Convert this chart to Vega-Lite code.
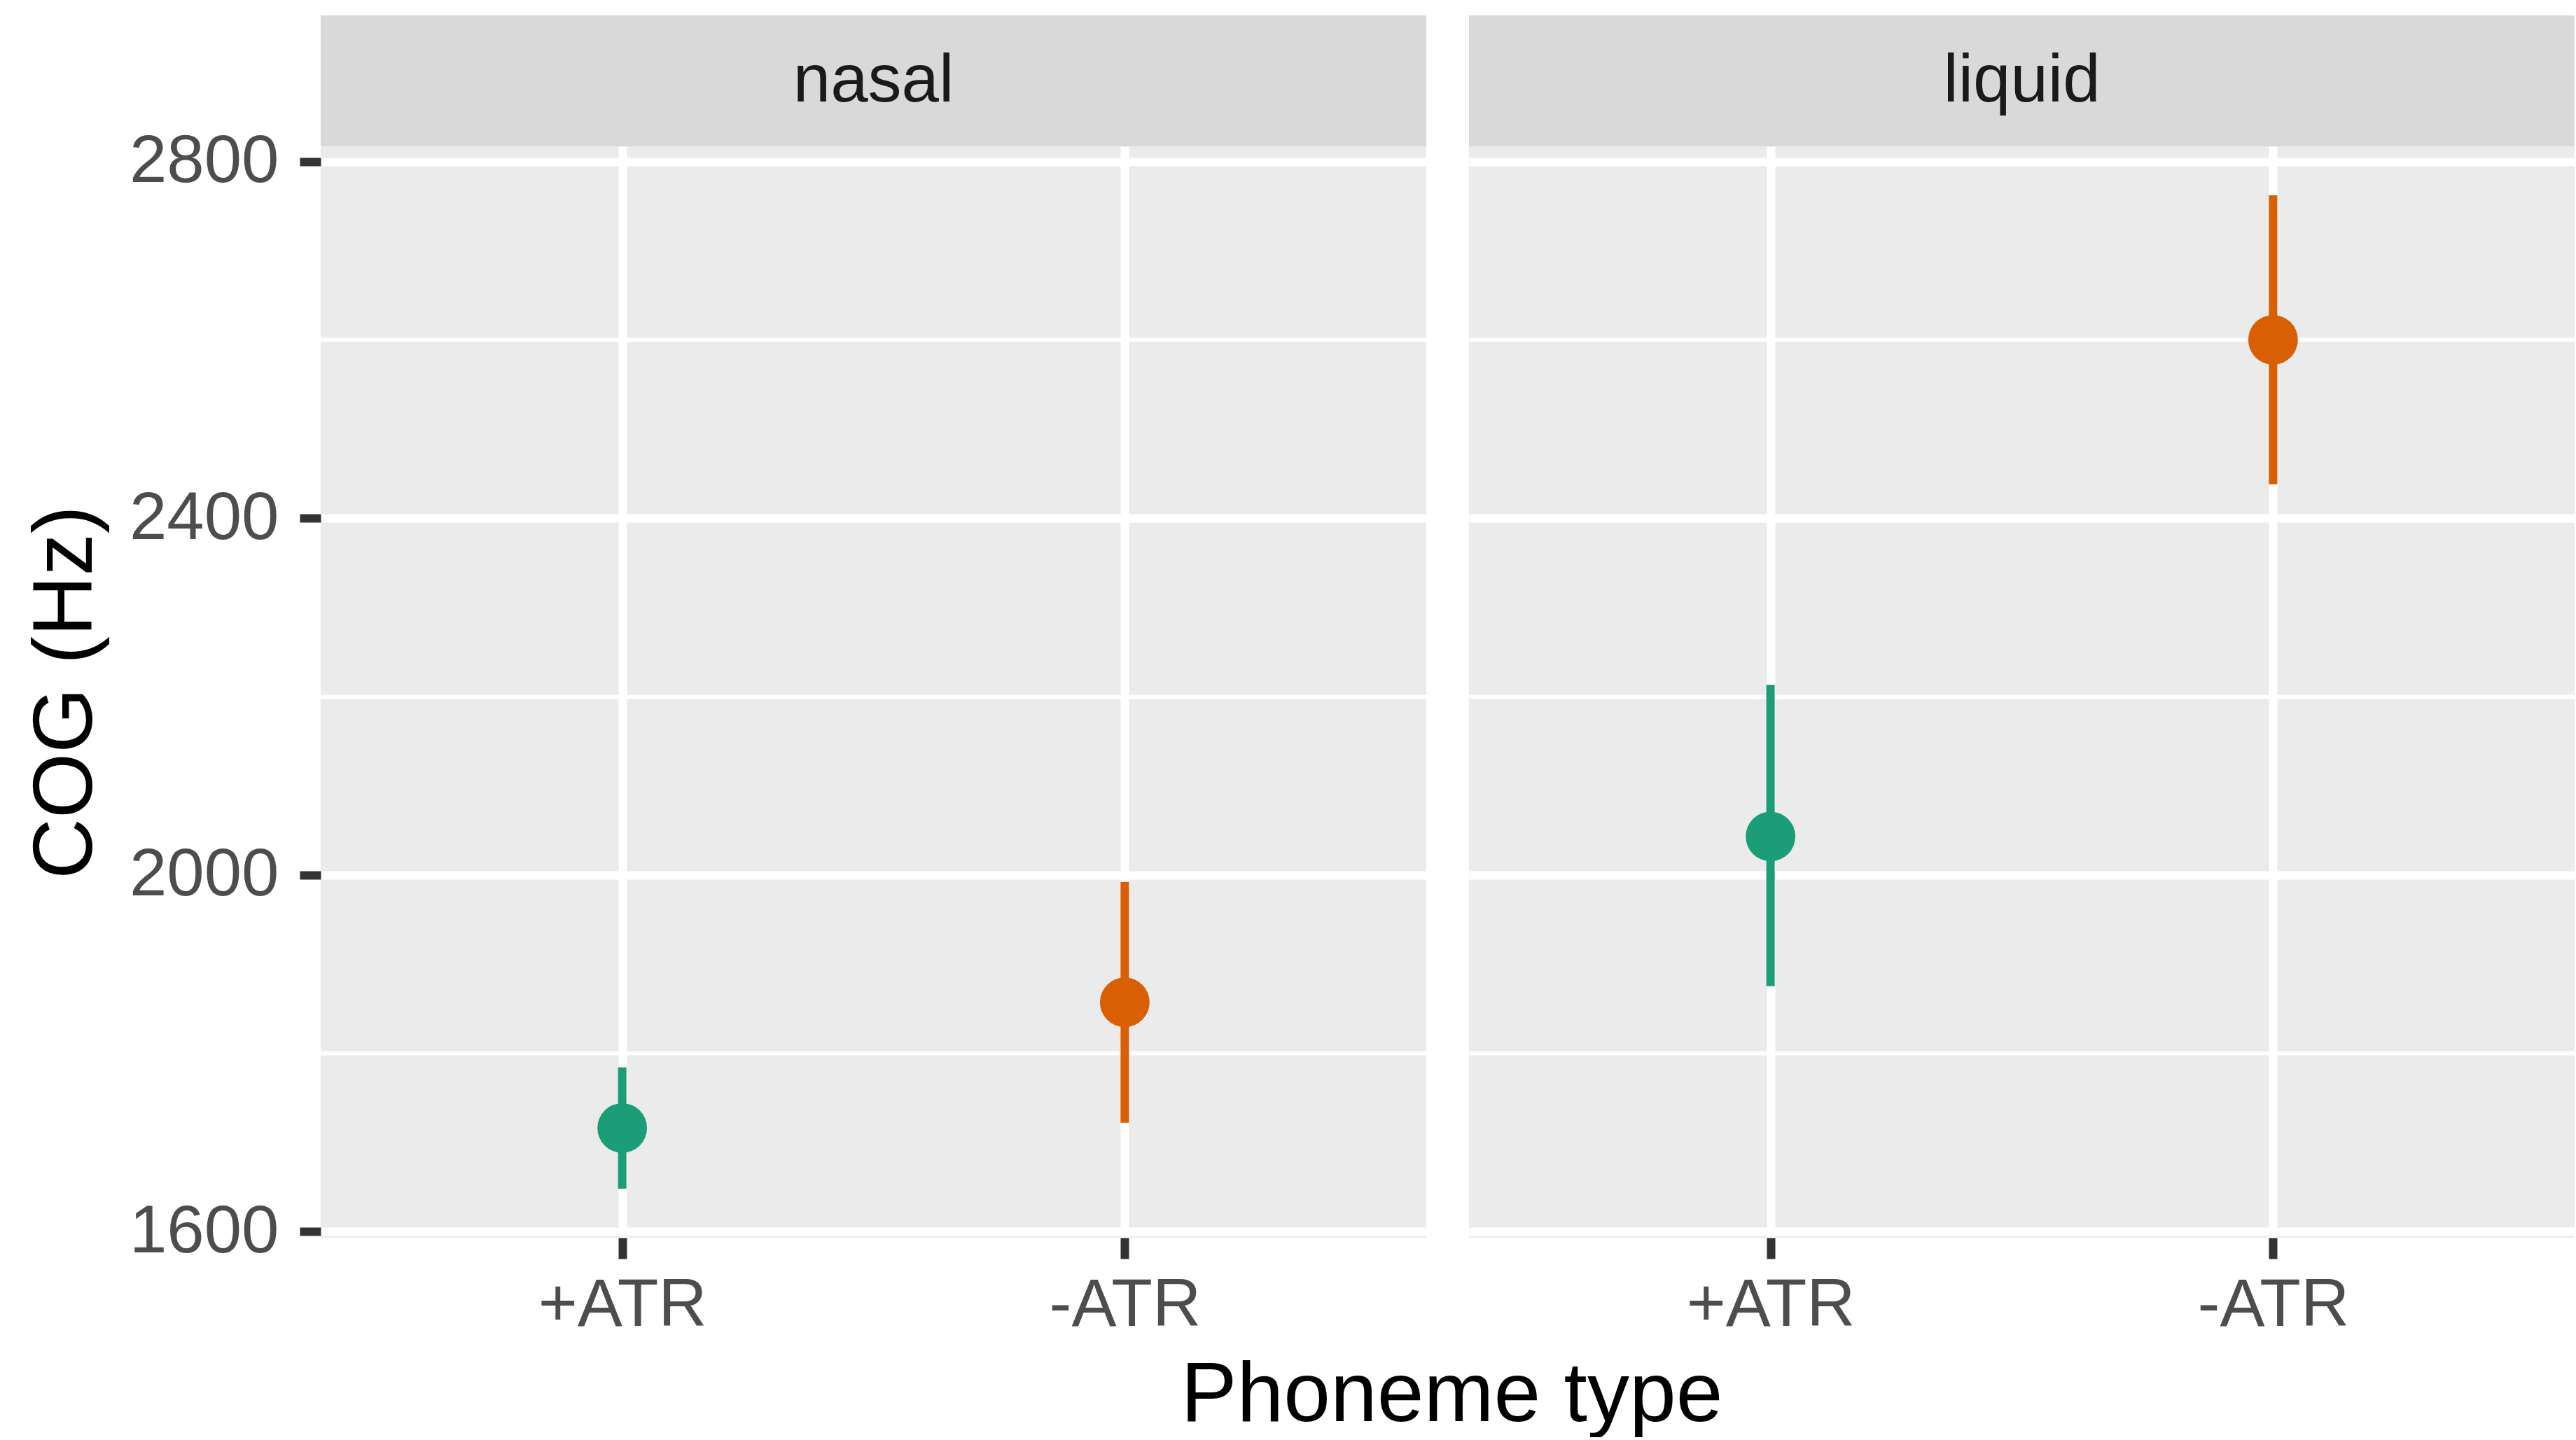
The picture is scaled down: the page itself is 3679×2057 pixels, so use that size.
{
  "$schema": "https://vega.github.io/schema/vega-lite/v6.json",
  "padding": {"left": 34, "top": 22, "right": 0, "bottom": 0},
  "bounds": "flush",
  "columns": 2,
  "spacing": {"row": 0, "column": 61},
  "datasets": {
    "strips": [{"panel": "nasal"}, {"panel": "liquid"}],
    "cog": [
      {"phon": "nasal", "type": "+ATR", "cog": 1716, "lower": 1648, "upper": 1784},
      {"phon": "nasal", "type": "-ATR", "cog": 1857, "lower": 1722, "upper": 1992},
      {"phon": "liquid", "type": "+ATR", "cog": 2043, "lower": 1875, "upper": 2213},
      {"phon": "liquid", "type": "-ATR", "cog": 2600, "lower": 2438, "upper": 2762}
    ]
  },
  "concat": [
    {
      "width": 1579, "height": 187,
      "view": {"fill": "#d9d9d9", "stroke": null},
      "data": {"name": "strips"},
      "transform": [{"filter": "datum.panel === 'nasal'"}],
      "mark": {"type": "text", "fontSize": 96, "color": "#1a1a1a", "font": "Liberation Sans", "baseline": "middle", "align": "center"},
      "encoding": {"text": {"field": "panel", "type": "nominal"}}
    },
    {
      "width": 1579, "height": 187,
      "view": {"fill": "#d9d9d9", "stroke": null},
      "data": {"name": "strips"},
      "transform": [{"filter": "datum.panel === 'liquid'"}],
      "mark": {"type": "text", "fontSize": 96, "color": "#1a1a1a", "font": "Liberation Sans", "baseline": "middle", "align": "center"},
      "encoding": {"text": {"field": "panel", "type": "nominal"}}
    },
    {
      "width": 1579, "height": 1559,
      "data": {"name": "cog"},
      "transform": [{"filter": "datum.phon === 'nasal'"}],
      "encoding": {
        "x": {"field": "type", "type": "nominal", "sort": ["+ATR", "-ATR"],
              "scale": {"type": "point", "padding": 0.6},
              "axis": {"title": "Phoneme type", "titleX": 1615, "grid": true, "labelAngle": 0}},
        "color": {"field": "type", "type": "nominal",
                  "scale": {"domain": ["+ATR", "-ATR"], "range": ["#1b9e77", "#d95f02"]},
                  "legend": null}
      },
      "layer": [
        {
          "mark": {"type": "rule", "strokeWidth": 12},
          "encoding": {
            "y": {"field": "lower", "type": "quantitative", "title": "COG (Hz)",
                  "scale": {"domain": [1593, 2817], "nice": false, "zero": false},
                  "axis": {"values": [1600, 1800, 2000, 2200, 2400, 2600, 2800], "format": "d",
                           "labelExpr": "datum.value % 400 === 0 ? datum.label : ''",
                           "gridWidth": {"condition": {"test": "datum.value % 400 === 0", "value": 12}, "value": 6},
                           "tickOpacity": {"condition": {"test": "datum.value % 400 === 0", "value": 1}, "value": 0},
                           "labelFlush": false, "titlePadding": 103}},
            "y2": {"field": "upper"}
          }
        },
        {
          "mark": {"type": "circle", "size": 5027, "opacity": 1},
          "encoding": {
            "y": {"field": "cog", "type": "quantitative", "title": "COG (Hz)"}
          }
        }
      ]
    },
    {
      "width": 1579, "height": 1559,
      "data": {"name": "cog"},
      "transform": [{"filter": "datum.phon === 'liquid'"}],
      "encoding": {
        "x": {"field": "type", "type": "nominal", "sort": ["+ATR", "-ATR"],
              "scale": {"type": "point", "padding": 0.6},
              "axis": {"title": null, "grid": true, "labelAngle": 0}},
        "color": {"field": "type", "type": "nominal",
                  "scale": {"domain": ["+ATR", "-ATR"], "range": ["#1b9e77", "#d95f02"]},
                  "legend": null}
      },
      "layer": [
        {
          "mark": {"type": "rule", "strokeWidth": 12},
          "encoding": {
            "y": {"field": "lower", "type": "quantitative", "title": null,
                  "scale": {"domain": [1593, 2817], "nice": false, "zero": false},
                  "axis": {"values": [1600, 1800, 2000, 2200, 2400, 2600, 2800],
                           "labels": false, "ticks": false, "title": null,
                           "gridWidth": {"condition": {"test": "datum.value % 400 === 0", "value": 12}, "value": 6}}},
            "y2": {"field": "upper"}
          }
        },
        {
          "mark": {"type": "circle", "size": 5027, "opacity": 1},
          "encoding": {
            "y": {"field": "cog", "type": "quantitative", "title": null}
          }
        }
      ]
    }
  ],
  "config": {
    "view": {"fill": "#ebebeb", "stroke": null},
    "font": "Liberation Sans",
    "axis": {
      "domain": false,
      "gridColor": "#ffffff",
      "tickColor": "#333333",
      "tickWidth": 12,
      "tickSize": 30,
      "labelColor": "#4d4d4d",
      "labelFontSize": 96,
      "labelLimit": 2000,
      "labelFont": "Liberation Sans",
      "titleFont": "Liberation Sans",
      "titleFontSize": 120,
      "titleLimit": 3000,
      "titleColor": "#000000",
      "titleFontWeight": "normal"
    },
    "axisX": {"labelPadding": 19, "titlePadding": 22, "gridWidth": 12},
    "axisY": {"labelPadding": 30}
  }
}
